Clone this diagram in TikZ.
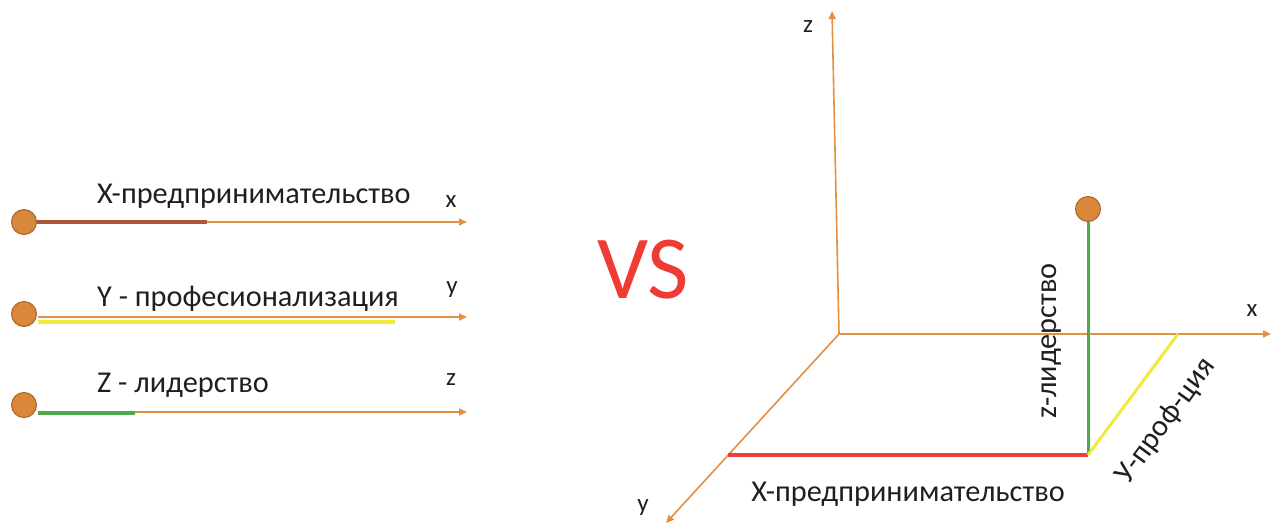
\documentclass[tikz,border=0pt]{standalone}
\usepackage{fontspec}
\setmainfont{Carlito}
\usetikzlibrary{arrows.meta}
\definecolor{axis}{HTML}{E39043}
\definecolor{dotfill}{HTML}{D9873A}
\definecolor{dotedge}{HTML}{A8652A}
\definecolor{brownseg}{HTML}{A9583C}
\definecolor{yellowseg}{HTML}{F2EA3A}
\definecolor{greenseg}{HTML}{4FA84A}
\definecolor{redseg}{HTML}{E8413A}
\definecolor{vsred}{HTML}{EE3B33}
\tikzset{
  axisline/.style={draw=axis, line width=1.6pt, -{Triangle[length=8pt,width=7pt]}},
  dot/.style={circle, fill=dotfill, draw=dotedge, line width=1pt, minimum size=25pt, inner sep=0pt},
  lbl/.style={font=\fontsize{30.3}{33}\selectfont, inner sep=0pt, text=black!88},
  axlbl/.style={font=\fontsize{25}{28}\selectfont, inner sep=0pt, text=black!88},
  seg/.style={line width=3.5pt},
}
\begin{document}
\begin{tikzpicture}[x=1pt,y=-1pt]
\useasboundingbox (0,0) rectangle (1271,525);
% ---------- left ----------
\node[dot] (d1) at (24,222) {};
\coordinate (e1) at (467,222);
\draw[axisline] (d1.east) -- (e1);
\draw[seg, brownseg] (d1.east) -- (207,222);
\node[lbl, anchor=base west] (t1) at (97,203) {X-предпринимательство};
\node[axlbl] (a1) at (451,202) {x};

\node[dot] (d2) at (24,314) {};
\coordinate (e2) at (467,317);
\draw[axisline] (38,317) -- (e2);
\draw[seg, yellowseg] (38,322) -- (395,322);
\node[lbl, anchor=base west] (t2) at (97,306) {Y - професионализация};
\node[axlbl] (a2) at (452,290) {y};

\node[dot] (d3) at (24,405) {};
\coordinate (e3) at (467,412);
\draw[axisline] (38,412) -- (e3);
\draw[seg, greenseg] (38,413) -- (135,413);
\node[lbl, anchor=base west] (t3) at (97,392) {Z - лидерство};
\node[axlbl] (a3) at (451,380) {z};

% ---------- VS ----------
\node[font=\fontsize{90}{92}\selectfont, text=vsred, inner sep=0pt] (vs) at (643,270) {VS};

% ---------- right ----------
\coordinate (O) at (839,334);
\coordinate (zt) at (832,11);
\coordinate (xt) at (1271,334);
\coordinate (yt) at (666,523);
\draw[axisline] (O) -- (zt);
\draw[axisline] (O) -- (xt);
\draw[axisline] (O) -- (yt);
\node[axlbl] (zl) at (808,27) {z};
\node[axlbl] (xl) at (1252,311) {x};
\node[axlbl] (yl) at (643,508) {y};

\coordinate (P) at (1088,455);
\coordinate (Q) at (728,455);
\coordinate (R) at (1178,334);
\node[dot, minimum size=25pt] (top) at (1088,209) {};
\draw[seg, redseg] (Q) -- (P);
\draw[line width=3pt, greenseg] (P) -- (top.south);
\draw[line width=3pt, yellowseg] (P) -- (R);
\node[lbl, rotate=90] (zlab) at (1052,341) {z-лидерство};
\node[lbl, rotate=53.7] (ylab) at (1166,421) {У-проф-ция};
\node[lbl] (xlab) at (908,494) {X-предпринимательство};
\end{tikzpicture}
\end{document}
